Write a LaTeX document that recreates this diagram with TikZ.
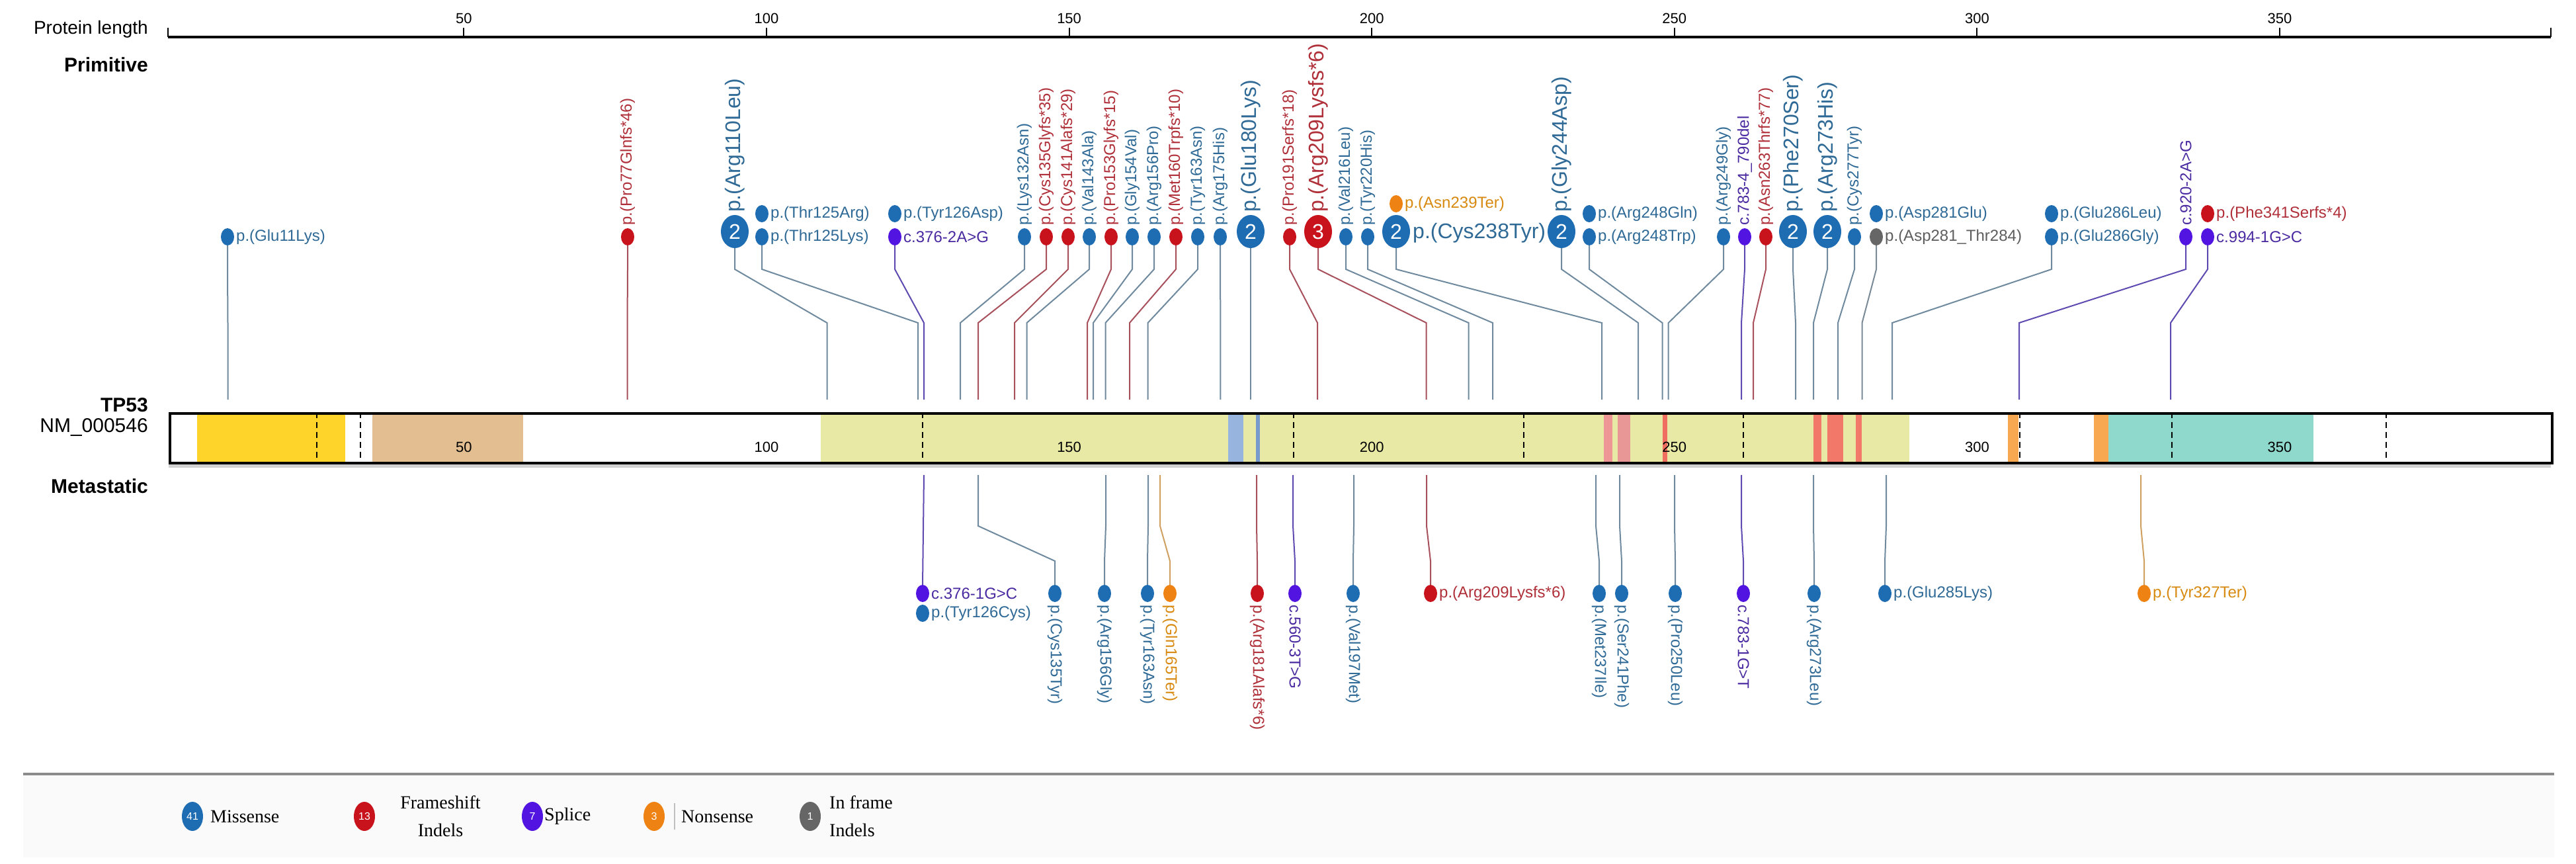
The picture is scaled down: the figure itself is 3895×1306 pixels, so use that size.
\documentclass[tikz,border=0pt]{standalone}
\usepackage{fontspec}
\setmainfont{Liberation Sans}
\newfontfamily\legfont{Liberation Serif}
\usetikzlibrary{shapes.geometric}
\definecolor{Bdot}{HTML}{1E6CB2}
\definecolor{Btxt}{HTML}{2F6A96}
\definecolor{Blin}{HTML}{6F8A9E}
\definecolor{Rdot}{HTML}{C8121C}
\definecolor{Rtxt}{HTML}{B0303A}
\definecolor{Rlin}{HTML}{A8505C}
\definecolor{Pdot}{HTML}{5214E0}
\definecolor{Ptxt}{HTML}{4A2AA0}
\definecolor{Plin}{HTML}{5E4AB0}
\definecolor{Odot}{HTML}{EE8212}
\definecolor{Otxt}{HTML}{D88A10}
\definecolor{Olin}{HTML}{D0A060}
\definecolor{Gdot}{HTML}{666666}
\definecolor{Gtxt}{HTML}{5E5E5E}
\definecolor{Glin}{HTML}{7A8A96}
\tikzset{
 sdot/.style={ellipse, minimum width=20pt, minimum height=26pt, inner sep=0pt},
 bdot/.style={ellipse, minimum width=42pt, minimum height=50pt, inner sep=0pt, text=white, font=\fontsize{32}{32}\selectfont},
 lab/.style={font=\fontsize{24}{26}\selectfont, inner sep=0pt},
 blab/.style={font=\fontsize{32}{34}\selectfont, inner sep=0pt},
 conn/.style={line width=2pt},
 dom/.style={draw=none},
 exon/.style={line width=2.5pt, dash pattern=on 9pt off 6pt},
 ttl/.style={font=\bfseries\fontsize{30}{32}\selectfont, inner sep=0pt, anchor=east},
 legdot/.style={ellipse, minimum width=32pt, minimum height=44pt, inner sep=0pt, text=white, font=\fontsize{16}{16}\selectfont},
 legtxt/.style={font=\legfont\fontsize{28}{42}\selectfont, inner sep=0pt, align=center},
}
% primitive: small dot, vertical label
\newcommand\PrimV[5]{%
 \node[sdot, fill=#4dot] (#1) at (#2,358) {};
 \node[lab, text=#4txt, rotate=90, anchor=west] (#1t) at (#2,341) {#5};
 \coordinate (#1e) at (#3,604);
 \draw[conn, #4lin] (#1.south) -- (#2,407) -- (#3,488) -- (#1e);}
% primitive: big dot, vertical label
\newcommand\PrimB[6]{%
 \node[bdot, fill=#4dot] (#1) at (#2,350) {#5};
 \node[blab, text=#4txt, rotate=90, anchor=west] (#1t) at (#2,321) {#6};
 \coordinate (#1e) at (#3,604);
 \draw[conn, #4lin] (#1.south) -- (#2,407) -- (#3,488) -- (#1e);}
% primitive: small dot, horizontal label
\newcommand\PrimH[5]{%
 \node[sdot, fill=#4dot] (#1) at (#2,358) {};
 \node[lab, text=#4txt, anchor=west] (#1t) at (#2+13,358) {#5};
 \coordinate (#1e) at (#3,604);
 \draw[conn, #4lin] (#1.south) -- (#2,407) -- (#3,488) -- (#1e);}
% primitive: stacked pair, horizontal labels
\newcommand\PrimS[7]{%
 \node[sdot, fill=#4dot] (#1) at (#2,358) {};
 \node[lab, text=#4txt, anchor=west] (#1t) at (#2+13,358) {#5};
 \node[sdot, fill=#6dot] (#1u) at (#2,323) {};
 \node[lab, text=#6txt, anchor=west] (#1ut) at (#2+13,323) {#7};
 \coordinate (#1e) at (#3,604);
 \draw[conn, #4lin] (#1.south) -- (#2,407) -- (#3,488) -- (#1e);}
% metastatic: vertical label
\newcommand\MetV[5]{%
 \coordinate (#1e) at (#3,718);
 \node[sdot, fill=#4dot] (#1) at (#2,897) {};
 \node[lab, text=#4txt, rotate=-90, anchor=west] (#1t) at (#2,914) {#5};
 \draw[conn, #4lin] (#1e) -- (#3,795) -- (#2,848) -- (#1.north);}
% metastatic: horizontal label
\newcommand\MetH[5]{%
 \coordinate (#1e) at (#3,718);
 \node[sdot, fill=#4dot] (#1) at (#2,897) {};
 \node[lab, text=#4txt, anchor=west] (#1t) at (#2+13,897) {#5};
 \draw[conn, #4lin] (#1e) -- (#3,795) -- (#2,848) -- (#1.north);}
\begin{document}
\begin{tikzpicture}[x=1pt,y=-1pt]
\useasboundingbox[fill=white] (0,0) rectangle (3895,1306);
% axis
\node[font=\fontsize{28}{30}\selectfont, anchor=east, inner sep=0pt] (plen) at (224,44) {Protein length};
\coordinate (axs) at (254,56);
\coordinate (axe) at (3857,56);
\draw[line width=4pt] (axs) -- (axe);
\draw[line width=2pt] (axs) -- ++(0,-14);
\draw[line width=2pt] (axe) -- ++(0,-14);
\foreach \v/\xx in {50/701.4,100/1159,150/1616.6,200/2074.2,250/2531.8,300/2989.4,350/3447}{
 \draw[line width=2pt] (\xx,56) -- (\xx,42);
 \node[font=\fontsize{22}{24}\selectfont, inner sep=0pt] (tk\v) at (\xx,28) {\v};
}
\node[ttl] (prim) at (224,98) {Primitive};
% protein bar
\fill[black!18] (255,698) rectangle (3857,707);
\fill[white] (255,623) rectangle (3857,698);
\fill[dom, fill={rgb,255:red,255;green,212;blue,42}] (298,623) rectangle (522,698);
\fill[dom, fill={rgb,255:red,226;green,190;blue,144}] (563,623) rectangle (791,698);
\fill[dom, fill={rgb,255:red,233;green,233;blue,166}] (1241,623) rectangle (2887,698);
\fill[dom, fill={rgb,255:red,150;green,180;blue,222}] (1857,623) rectangle (1880,698);
\fill[dom, fill={rgb,255:red,120;green,155;blue,205}] (1899,623) rectangle (1905,698);
\fill[dom, fill={rgb,255:red,238;green,150;blue,150}] (2425,623) rectangle (2438,698);
\fill[dom, fill={rgb,255:red,232;green,150;blue,150}] (2446,623) rectangle (2465,698);
\fill[dom, fill={rgb,255:red,240;green,110;blue,96}] (2514,623) rectangle (2521,698);
\fill[dom, fill={rgb,255:red,242;green,120;blue,105}] (2742,623) rectangle (2754,698);
\fill[dom, fill={rgb,255:red,242;green,120;blue,105}] (2763,623) rectangle (2787,698);
\fill[dom, fill={rgb,255:red,242;green,120;blue,105}] (2806,623) rectangle (2815,698);
\fill[dom, fill={rgb,255:red,248;green,168;blue,80}] (3036,623) rectangle (3052,698);
\fill[dom, fill={rgb,255:red,248;green,168;blue,80}] (3166,623) rectangle (3188,698);
\fill[dom, fill={rgb,255:red,142;green,216;blue,204}] (3188,623) rectangle (3498,698);
\foreach \xx in {479,545,1395,1956,2304,2636,3054,3284,3608}{
 \draw[exon] (\xx,623) -- (\xx,698);
}
\foreach \v/\xx in {50/701.4,100/1159,150/1616.6,200/2074.2,250/2531.8,300/2989.4,350/3447}{
 \node[font=\fontsize{22}{24}\selectfont, inner sep=0pt] (bn\v) at (\xx,676) {\v};
}
\node[draw, line width=4pt, minimum width=3602pt, minimum height=75pt, inner sep=0pt, anchor=north west] (bar) at (255,623) {};
\node[ttl] (gene) at (224,612) {TP53};
\node[font=\fontsize{30}{32}\selectfont, inner sep=0pt, anchor=east] (nm) at (224,646) {NM\_000546};
\node[ttl] (meta) at (224,735) {Metastatic};
% primitive lollipops
\PrimH{glu11}{344}{344.5}{B}{p.(Glu11Lys)}
\PrimV{pro77}{949}{948.5}{R}{p.(Pro77Glnfs*46)}
\PrimB{arg110}{1111}{1250.5}{B}{2}{p.(Arg110Leu)}
\PrimS{thr125}{1152}{1388}{B}{p.(Thr125Lys)}{B}{p.(Thr125Arg)}
\PrimS{tyr126}{1353}{1397}{P}{c.376-2A>G}{B}{p.(Tyr126Asp)}
\PrimV{lys132}{1549}{1452}{B}{p.(Lys132Asn)}
\PrimV{cys135}{1582}{1479}{R}{p.(Cys135Glyfs*35)}
\PrimV{cys141}{1615}{1534}{R}{p.(Cys141Alafs*29)}
\PrimV{val143}{1647}{1552.5}{B}{p.(Val143Ala)}
\PrimV{pro153}{1680}{1644}{R}{p.(Pro153Glyfs*15)}
\PrimV{gly154}{1712}{1653}{B}{p.(Gly154Val)}
\PrimV{arg156}{1745}{1671.5}{B}{p.(Arg156Pro)}
\PrimV{met160}{1778}{1708}{R}{p.(Met160Trpfs*10)}
\PrimV{tyr163}{1811}{1735.6}{B}{p.(Tyr163Asn)}
\PrimV{arg175}{1845}{1845.4}{B}{p.(Arg175His)}
\PrimB{glu180}{1891}{1891}{B}{2}{p.(Glu180Lys)}
\PrimV{pro191}{1950}{1992}{R}{p.(Pro191Serfs*18)}
\PrimB{arg209}{1993}{2156.6}{R}{3}{p.(Arg209Lysfs*6)}
\PrimV{val216}{2035}{2220.6}{B}{p.(Val216Leu)}
\PrimV{tyr220}{2068}{2257}{B}{p.(Tyr220His)}
% Cys238Tyr with Asn239Ter stacked
\node[bdot, fill=Bdot] (cys238) at (2111,350) {2};
\node[blab, text=Btxt, anchor=west] (cys238t) at (2136,352) {p.(Cys238Tyr)};
\node[sdot, fill=Odot] (asn239) at (2111,308) {};
\node[lab, text=Otxt, anchor=west] (asn239t) at (2124,308) {p.(Asn239Ter)};
\coordinate (cys238e) at (2422,604);
\draw[conn, Blin] (cys238.south) -- (2111,407) -- (2422,488) -- (cys238e);
\PrimB{gly244}{2361}{2477}{B}{2}{p.(Gly244Asp)}
\PrimS{arg248}{2403}{2513.5}{B}{p.(Arg248Trp)}{B}{p.(Arg248Gln)}
\PrimV{arg249}{2606}{2522.7}{B}{p.(Arg249Gly)}
\PrimV{c783}{2638}{2633}{P}{c.783-4\_790del}
\PrimV{asn263}{2670}{2651}{R}{p.(Asn263Thrfs*77)}
\PrimB{phe270}{2711}{2715}{B}{2}{p.(Phe270Ser)}
\PrimB{arg273}{2763}{2742}{B}{2}{p.(Arg273His)}
\PrimV{cys277}{2804}{2779}{B}{p.(Cys277Tyr)}
\PrimS{asp281}{2837}{2815.5}{G}{p.(Asp281\_Thr284)}{B}{p.(Asp281Glu)}
\PrimS{glu286}{3102}{2861}{B}{p.(Glu286Gly)}{B}{p.(Glu286Leu)}
\PrimV{c920}{3305}{3053}{P}{c.920-2A>G}
\PrimS{phe341}{3338}{3282}{P}{c.994-1G>C}{R}{p.(Phe341Serfs*4)}
% metastatic lollipops
\coordinate (m126e) at (1397,718);
\node[sdot, fill=Pdot] (m126) at (1395,897) {};
\node[lab, text=Ptxt, anchor=west] (m126t) at (1408,897) {c.376-1G>C};
\node[sdot, fill=Bdot] (m126b) at (1395,927) {};
\node[lab, text=Btxt, anchor=west] (m126bt) at (1408,927) {p.(Tyr126Cys)};
\draw[conn, Plin] (m126e) -- (m126.north);
\MetV{m135}{1595}{1479}{B}{p.(Cys135Tyr)}
\MetV{m156}{1670}{1672}{B}{p.(Arg156Gly)}
\MetV{m163}{1735}{1736}{B}{p.(Tyr163Asn)}
\MetV{m165}{1769}{1754}{O}{p.(Gln165Ter)}
\MetV{m181}{1901}{1900}{R}{p.(Arg181Alafs*6)}
\MetV{m187}{1958}{1955}{P}{c.560-3T>G}
\MetV{m197}{2046}{2047}{B}{p.(Val197Met)}
\MetH{m209}{2163}{2157}{R}{p.(Arg209Lysfs*6)}
\MetV{m237}{2418}{2413}{B}{p.(Met237Ile)}
\MetV{m241}{2452}{2449}{B}{p.(Ser241Phe)}
\MetV{m250}{2533}{2532}{B}{p.(Pro250Leu)}
\MetV{m261}{2636}{2633}{P}{c.783-1G>T}
\MetV{m273}{2743}{2742}{B}{p.(Arg273Leu)}
\MetH{m285}{2850}{2852}{B}{p.(Glu285Lys)}
\MetH{m327}{3242}{3237}{O}{p.(Tyr327Ter)}
% legend
\fill[black!2] (35,1172) rectangle (3862,1296);
\draw[line width=4pt, black!45] (35,1170) -- (3862,1170);
\node[legdot, fill=Bdot] (lgB) at (291,1234) {41};
\node[legtxt, anchor=west] (lgBt) at (318,1234) {Missense};
\node[legdot, fill=Rdot] (lgR) at (551,1234) {13};
\node[legtxt] (lgRt) at (666,1234) {Frameshift\\Indels};
\node[legdot, fill=Pdot] (lgP) at (805,1234) {7};
\node[legtxt, anchor=west] (lgPt) at (823,1234) {Splice};
\node[legdot, fill=Odot] (lgO) at (989,1234) {3};
\draw[line width=1.5pt, black!25] (1020,1214) -- (1020,1254);
\node[legtxt, anchor=west] (lgOt) at (1030,1234) {Nonsense};
\node[legdot, fill=Gdot] (lgG) at (1225,1234) {1};
\node[legtxt, anchor=west, align=left] (lgGt) at (1254,1234) {In frame\\Indels};
\end{tikzpicture}
\end{document}
